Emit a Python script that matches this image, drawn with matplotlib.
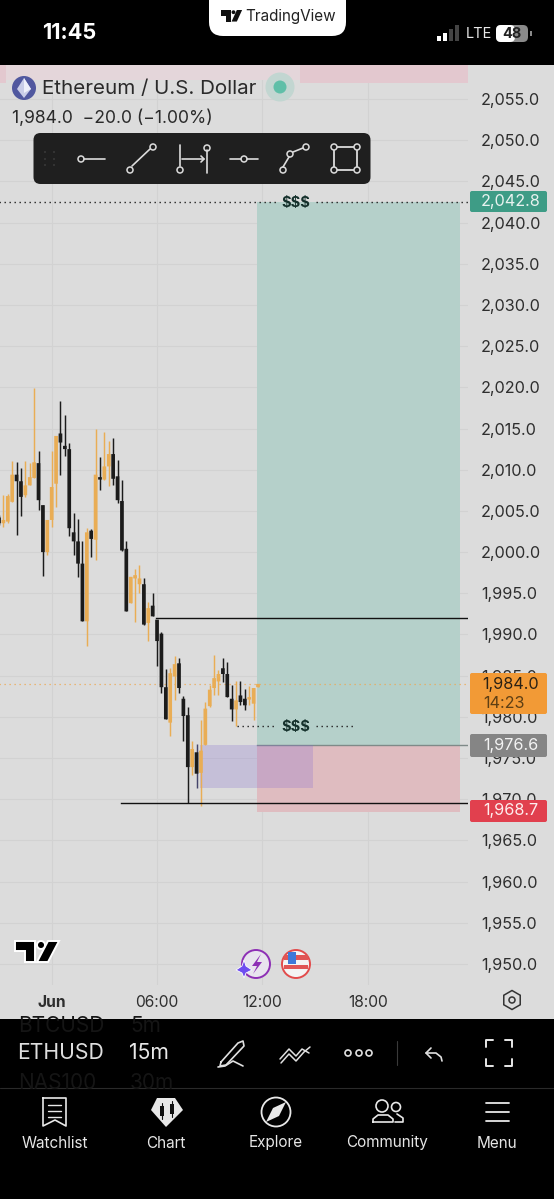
import matplotlib
matplotlib.use("Agg")
import matplotlib.pyplot as plt
from matplotlib.patches import Rectangle, FancyBboxPatch, Circle, Polygon, RegularPolygon

plt.rcParams['font.family'] = ['Inter', 'DejaVu Sans']

W, H = 554, 1199
# ---------- data ----------
opens = [2004.2,2003.5,2003.7,2006.1,2009.4,2008.6,2006.9,2008.1,2009.0,2010.8,2005.7,2000.0,2003.9,2008.3,2014.4,
         2012.9,2012.5,2002.4,2001.3,1998.6,1991.6,2002.6,2001.5,2009.1,2008.8,2010.4,2011.9,2009.2,2006.2,2000.4,
         1993.8,1996.8,1996.1,1996.1,1991.4,1993.5,1991.8,1990.1,1983.6,1979.3,1984.9,1986.5,1982.2,1980.2,1973.9,
         1975.7,1973.2,1976.6,1981.3,1983.5,1984.3,1985.9,1985.2,1982.2,1980.9,1982.6,1982.2,1982.1,1981.6,1983.6]
highs = [2004.5,2006.9,2007.1,2011.0,2010.9,2010.2,2011.0,2010.8,2019.9,2012.3,2005.7,2003.9,2012.3,2014.1,2018.3,
         2016.6,2013.2,2004.8,2004.0,2001.4,2002.9,2002.8,2014.9,2011.5,2014.6,2013.5,2013.9,2011.2,2008.8,2001.3,
         1997.0,1998.0,1998.4,1996.8,1993.9,1995.0,1991.8,1990.3,1985.8,1985.9,1987.4,1987.1,1982.5,1981.2,1977.1,
         1976.7,1979.6,1981.8,1983.9,1987.5,1985.7,1987.1,1986.6,1983.9,1984.3,1984.4,1983.4,1983.7,1983.5,1984.0]
lows  = [2003.3,2003.1,2003.5,2006.1,2002.1,2004.4,2006.7,2008.1,2009.0,2005.1,1997.1,1999.6,2003.1,2005.5,2009.3,
         2011.7,2002.0,1999.6,1997.0,1991.6,1988.6,1999.4,1999.1,2007.5,2008.8,2008.0,2008.1,2005.9,2000.1,1992.8,
         1993.8,1991.5,1995.0,1991.2,1989.2,1992.2,1986.2,1982.9,1979.8,1977.7,1982.0,1982.9,1977.1,1969.5,1973.0,
         1971.4,1969.2,1976.6,1981.2,1982.7,1982.7,1984.2,1982.4,1979.5,1978.9,1981.4,1980.8,1981.4,1979.6,1983.6]
closes= [2003.5,2003.9,2006.8,2009.4,2008.6,2006.7,2008.1,2009.1,2010.9,2006.3,2000.0,2003.9,2007.9,2014.1,2013.3,
         2012.5,2002.9,2001.3,1998.6,1991.6,2002.4,2001.6,2009.4,2008.8,2010.4,2011.9,2008.9,2006.3,2000.2,1992.8,
         1997.0,1997.2,1996.8,1991.2,1993.2,1992.2,1989.2,1983.6,1979.7,1985.3,1986.4,1983.5,1980.1,1973.9,1976.1,
         1973.1,1975.9,1981.0,1983.3,1984.7,1985.2,1985.2,1982.4,1980.9,1982.0,1981.8,1981.4,1982.2,1983.5,1984.0]

price_ticks = [2055,2050,2045,2040,2035,2030,2025,2020,2015,2010,2005,2000,1995,1990,1985,1980,1975,1970,1965,1960,1955,1950]
time_ticks = [12, 36, 60, 84]
time_labels = ['Jun', '06:00', '12:00', '18:00']

target_price = 2042.8
target_edge = 2042.5
entry_price = 1976.6
stop_price = 1968.7
stop_edge = 1968.5
last_price = 1984.0
position_start, position_end = 58.8, 105.0
zone_top, zone_bottom = 1976.6, 1971.4
zone_start, zone_end = 45.8, 71.5
upper_line, upper_line_start = 1992.0, 35.8
lower_line, lower_line_start = 1969.5, 27.8
liq_top = 2042.5
liq_low = 1978.9
liq_low_span = (54.2, 81.2)
liq_gap = (63.0, 72.2)
liq_label_x = 67.6
top_zone = (2059.2, 2057.0)
top_zone_start = 68.5

BG = '#dcdcdc'
fig = plt.figure(figsize=(W/100, H/100), dpi=100, facecolor=BG)

# ---------- chart pane ----------
PX0, PX1, PY0, PY1 = 0, 468, 65, 985
ax = fig.add_axes([PX0/W, 1-PY1/H, (PX1-PX0)/W, (PY1-PY0)/H], facecolor=BG)
idx0 = 1/4.39
ax.set_xlim(idx0, 469/4.39)
ppu = 865/105
ymax = 2055 + 34/ppu
ymin = 2055 - 886/ppu
ax.set_ylim(ymin, ymax)
for s in ax.spines.values():
    s.set_visible(False)
ax.set_axisbelow(True)
ax.grid(True, color='#d2d2d2', lw=0.8)
ax.yaxis.tick_right()
ax.set_yticks(price_ticks)
ax.set_yticklabels([f'{p:,.1f}' for p in price_ticks], fontsize=11.7, color='#2e2e2e')
ax.tick_params(axis='y', length=0, pad=9.4)
ax.set_xticks(time_ticks)
ax.set_xticklabels(time_labels, fontsize=11.2, color='#2e2e2e')
ax.get_xticklabels()[0].set_fontweight('bold')
ax.tick_params(axis='x', length=0, pad=7)

# position tool
ax.add_patch(Rectangle((position_start, entry_price), position_end-position_start, target_edge-entry_price,
                       fc='#b5d0ca', ec='none', zorder=1))
ax.add_patch(Rectangle((position_start, stop_edge), position_end-position_start, entry_price-stop_edge,
                       fc='#dfbcc0', ec='none', zorder=1))
ax.add_patch(Rectangle((top_zone_start, top_zone[1]), 107-top_zone_start, top_zone[0]-top_zone[1],
                       fc='#e3c8cf', ec='none', zorder=1))
ax.add_patch(Rectangle((0, top_zone[1]+0.3), top_zone_start, top_zone[0]-top_zone[1],
                       fc='#e4d6da', ec='none', zorder=1))
ax.add_patch(Rectangle((0, top_zone[1]), 1.5, top_zone[0]-top_zone[1], fc='#e3c8cf', ec='none', zorder=1))
ax.plot([position_start, 107], [entry_price, entry_price], color='#7f8a88', lw=1.0, zorder=2)

# candles
ORANGE, BLACK = '#e9ad55', '#1b1b1b'
xs = list(range(len(opens)))
cols = [ORANGE if c >= o else BLACK for o, c in zip(opens, closes)]
wick_cols = list(cols)
wick_cols[45] = '#45456b'
ax.vlines(xs, lows, highs, colors=wick_cols, lw=1.05, zorder=3)
bars = ax.bar(xs, [max(abs(c-o), 0.3) for o, c in zip(opens, closes)], bottom=[min(o, c) for o, c in zip(opens, closes)],
              width=0.84, color=cols, lw=0, zorder=3)
for b in bars:
    b.set_snap(False)

# zone above position tool
ax.add_patch(Rectangle((zone_start, zone_bottom), zone_end-zone_start, zone_top-zone_bottom,
                       fc='#846cd0', alpha=0.25, ec='none', zorder=2.5))

# lines
ax.plot([upper_line_start, 107], [upper_line]*2, color='#111111', lw=1.0, zorder=4)
ax.plot([lower_line_start, 107], [lower_line]*2, color='#111111', lw=1.0, zorder=4)
ax.plot([0, 107], [last_price]*2, color='#ecaa55', lw=0.9, ls=(0, (1, 3)), zorder=2.8)
DOT = (0, (1, 2.6))
ax.plot([0, liq_gap[0]], [liq_top]*2, color='#222222', lw=1.0, ls=DOT, zorder=4)
ax.plot([liq_gap[1], 107], [liq_top]*2, color='#222222', lw=1.0, ls=DOT, zorder=4)
ax.plot([liq_low_span[0], liq_gap[0]], [liq_low]*2, color='#222222', lw=1.0, ls=DOT, zorder=4)
ax.plot([liq_gap[1], liq_low_span[1]], [liq_low]*2, color='#222222', lw=1.0, ls=DOT, zorder=4)
for p in (liq_top, liq_low):
    ax.text(liq_label_x, p-0.12, '$$$', ha='center', va='center', fontsize=10.6, color='#14302b', fontweight='bold', zorder=5)

# ---------- overlay (app chrome), pixel coordinates ----------
ov = fig.add_axes([0, 0, 1, 1], facecolor='none')
ov.set_xlim(0, W)
ov.set_ylim(H, 0)
ov.axis('off')

def rect(x0, y0, x1, y1, c, **k):
    ov.add_patch(Rectangle((x0, y0), x1-x0, y1-y0, fc=c, ec='none', **k))

def rbox(x0, y0, x1, y1, c, r=2, **k):
    ov.add_patch(FancyBboxPatch((x0+r, y0+r), x1-x0-2*r, y1-y0-2*r, boxstyle=f'round,pad={r},rounding_size={r}',
                                fc=c, ec='none', **k))

def T(x, y, s, size, c='white', ha='center', **k):
    return ov.text(x, y, s, fontsize=size, color=c, ha=ha, va='center', **k)

def line(pts, c='white', lw=1.2, **k):
    ov.plot([p[0] for p in pts], [p[1] for p in pts], color=c, lw=lw, solid_capstyle='round', **k)

def ring(x, y, r, c='white', lw=1.1, fc='none'):
    ov.add_patch(Circle((x, y), r, fc=fc, ec=c, lw=lw, zorder=6))

def logo(x0, y0, sx, sy, c='black', **k):
    ov.add_patch(Polygon([(x0, y0), (x0+20*sx, y0), (x0+20*sx, y0+21*sy), (x0+10*sx, y0+21*sy), (x0+10*sx, y0+10*sy), (x0, y0+10*sy)], fc=c, **k))
    ov.add_patch(Polygon([(x0+22*sx, y0+21*sy), (x0+33*sx, y0+21*sy), (x0+44*sx, y0), (x0+33*sx, y0)], fc=c, **k))
    ov.add_patch(Circle((x0+26*sx, y0+4*sy), 4*sx, fc=c, **k))

# status bar
rect(0, 0, W, 65, '#000000')
rbox(209, -20, 346, 36, 'white', r=14)
logo(221, 10, 0.48, 0.55, c='#111111', ec='none')
T(290.5, 17, 'TradingView', 11, '#222222')
T(69, 33, '11:45', 15.6, 'white', fontweight='bold')
for x, h, c in [(439, 5, 'white'), (445, 8, 'white'), (451, 12, '#444444'), (457, 16, '#444444')]:
    rect(x-2, 41-h, x+2, 41, c)
T(478.5, 34, 'LTE', 10.5, '#e8e8e8')
rbox(496, 25, 528, 42, '#8a8a8a', r=5)
rbox(496, 25, 515, 42, 'white', r=5)
T(512, 34, '48', 10.5, '#222222', fontweight='bold')
rect(530, 31, 531.5, 36, '#8a8a8a')

# header
ring(24, 88, 12, c='#50589f', lw=0, fc='#50589f')
ov.add_patch(Polygon([(24, 78), (31, 89), (24, 98), (17, 89)], fc='#c9cde8', ec='none', zorder=7))
ov.add_patch(Polygon([(24, 78), (31, 89), (24, 93), (24, 78)], fc='#eef0fa', ec='none', zorder=7))
T(42, 88.5, 'Ethereum / U.S. Dollar', 14.8, '#2a2a2a', ha='left')
ring(280, 87, 14.5, c='none', lw=0, fc='#c2d6d1')
ring(280, 87, 6.5, c='none', lw=0, fc='#5fbfa8')
T(12, 118.5, '1,984.0  −20.0 (−1.00%)', 12.6, '#2a2a2a', ha='left')

# toolbar
rbox(33.5, 133, 370.5, 184, '#1f1f1f', r=7)
for x in (45, 54):
    for y in (152, 159, 165):
        ring(x, y, 0.7, c='#555555', lw=0, fc='#555555')
ic = '#dcdcdc'
line([(84, 159), (105, 159)], ic)
ring(81, 159, 3, ic)
line([(132, 166), (150, 149)], ic)
ring(130, 170, 3, ic)
ring(153, 147, 3, ic)
line([(180, 145), (180, 166)], ic)
ring(180, 170, 3, ic)
line([(207, 150), (207, 173)], ic)
ring(207, 148, 3, ic)
line([(182, 159), (204, 159)], ic)
line([(201, 156), (204, 159), (201, 162)], ic)
line([(230, 159), (241, 159)], ic)
line([(247, 159), (258, 159)], ic)
ring(244, 159, 3, ic)
line([(283, 167), (289, 157)], ic)
line([(293, 152), (303, 148)], ic)
ring(283, 170, 3, ic)
ring(290, 154, 3, ic)
ring(306, 147, 3, ic)
sq = [(334, 147), (357, 147), (357, 170), (334, 170), (334, 147)]
line(sq, ic, lw=1.3)
for x, y in sq[:4]:
    ring(x, y, 3, ic, fc='#1f1f1f')

# price tags
def tag(y0, y1, c):
    rbox(470, y0, 547, y1, c, r=2)
    return (y0+y1)/2

y = tag(191, 212, '#3e9c86')
T(510.5, y, f'{target_price:,.1f}', 11.7, '#e8f2ef')
y = tag(673, 714, '#f29a36')
T(510.5, 684, f'{last_price:,.1f}', 11.7, '#2a2114')
T(503.5, 703, '14:23', 11.7, '#5e3f14')
y = tag(734, 757, '#858585')
T(510.5, y, f'{entry_price:,.1f}', 11.7, '#f3f3f3')
y = tag(800, 822, '#e1404e')
T(510.5, y, f'{stop_price:,.1f}', 11.7, '#fdeeee')

# TV logo
logo(15, 941, 1.0, 1.0, c='black', ec='white', lw=1.4, zorder=6)

# chart badges
ring(256, 964, 14, c='#8d2fb5', lw=1.4, fc='#e8e4ee')
ov.add_patch(Polygon([(261, 954), (252, 966), (257, 966), (253, 974), (262, 962), (257, 962)], fc='#8d2fb5', ec='none', zorder=7))
ov.add_patch(Polygon([(244, 960), (246, 966), (252, 970), (246, 973), (244, 978), (242, 973), (236, 970), (242, 966)], fc='#6f4df0', ec='white', lw=0.6, zorder=8))
ring(296, 964, 14, c='#e24b4b', lw=1.4, fc='#f4f4f4')
rect(284, 955, 308, 960, '#e05555', zorder=7)
rect(284, 965, 308, 969, '#e05555', zorder=7)
rect(288, 952, 296, 964, '#3f78d8', zorder=8)

# gear
ov.add_patch(RegularPolygon((512, 1000), 6, radius=9.5, fc='none', ec='#333333', lw=1.1))
ring(512, 1000, 3, '#333333', lw=1.1)

# bottom bar
rect(0, 1019, W, 1199, '#000000')
clip_strip = Rectangle((0, 1019), W, 69, transform=ov.transData)
for t in (T(18, 1026, 'BTCUSD', 15, '#151515', ha='left'), T(130, 1026, '5m', 15, '#151515', ha='left'),
          T(18, 1083, 'NAS100', 15, '#151515', ha='left'), T(130, 1083, '30m', 15, '#151515', ha='left')):
    t.set_clip_path(clip_strip)
T(17, 1053, 'ETHUSD', 15.2, '#dedede', ha='left')
T(129, 1053, '15m', 15.2, '#e8e8e8', ha='left')
line([(0, 1088), (W, 1088)], '#2a2a2a', lw=0.8)
# pencil
line([(221, 1062), (238, 1043), (243, 1041), (244, 1046), (226, 1065), (220, 1066), (221, 1062)], '#e0e0e0')
line([(218, 1067), (225, 1066), (233, 1061), (243, 1066)], '#e0e0e0')
# squiggle
line([(280, 1059), (289, 1049), (296, 1056), (302, 1049), (309, 1053)], '#e0e0e0', lw=1.1)
line([(281, 1063), (289, 1054), (296, 1061), (304, 1052), (310, 1047)], '#e0e0e0', lw=1.1)
for x in (348, 359, 369):
    ring(x, 1053, 3, '#e0e0e0', lw=1.2)
line([(397, 1041), (397, 1065)], '#3a3a3a', lw=0.8)
line([(431, 1048), (426, 1053), (431, 1058)], '#e0e0e0')
line([(426, 1053), (436, 1053), (441, 1057), (442, 1061)], '#e0e0e0')
for a, b, c in [((486, 1047), (486, 1040), (493, 1040)), ((505, 1040), (512, 1040), (512, 1047)),
                ((512, 1059), (512, 1066), (505, 1066)), ((493, 1066), (486, 1066), (486, 1059))]:
    line([a, b, c], '#e8e8e8', lw=1.4)

# nav icons
line([(43, 1098), (66, 1098), (66, 1126), (55, 1120), (43, 1126), (43, 1098)], '#e8e8e8')
for y in (1105, 1111, 1117):
    line([(48, y), (61, y)], '#e8e8e8', lw=1.0)
ov.add_patch(Polygon([(157, 1098), (175, 1098), (183, 1110), (166, 1127), (151, 1110)], fc='#e8e8e8', ec='none'))
for x, y0, y1 in [(162, 1106, 1116), (172, 1104, 1114)]:
    rect(x-2, y0, x+2, y1, '#111111', zorder=7)
    line([(x, y0-3), (x, y1+3)], '#111111', lw=0.8, zorder=7)
ring(276, 1112, 14.5, '#e8e8e8', lw=1.3)
ov.add_patch(Polygon([(286, 1102), (279, 1116), (266, 1122), (273, 1108)], fc='#e8e8e8', ec='none', zorder=7))
ring(382, 1106, 6, '#e8e8e8', lw=1.2)
ring(396, 1107, 4.5, '#e8e8e8', lw=1.2)
line([(373, 1122), (373, 1119), (378, 1115), (388, 1115), (393, 1119), (393, 1122), (373, 1122)], '#e8e8e8')
line([(397, 1114), (403, 1118), (403, 1122), (395, 1122)], '#e8e8e8')
for y in (1103, 1112, 1121):
    line([(486, y), (509, y)], '#e8e8e8', lw=1.3)
for x, s in [(55, 'Watchlist'), (166, 'Chart'), (276, 'Explore'), (387, 'Community'), (497, 'Menu')]:
    T(x, 1143, s, 11, '#e6e6e6')

fig.savefig('out.png', dpi=100, facecolor=BG)
